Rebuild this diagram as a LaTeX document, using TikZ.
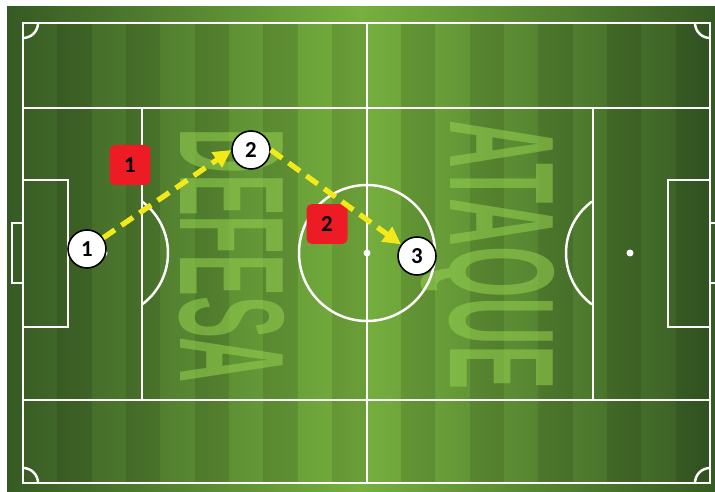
\documentclass[tikz,border=0pt]{standalone}
\usepackage{fontspec}
\setmainfont{Carlito}
\newfontfamily\bannerfont{Liberation Sans}
\usetikzlibrary{arrows.meta}
\definecolor{fielddark}{RGB}{54,90,36}
\definecolor{fieldlight}{RGB}{118,176,62}
\definecolor{lettergreen}{RGB}{150,210,80}
\definecolor{passyellow}{RGB}{242,232,26}
\definecolor{passred}{RGB}{237,28,36}
\begin{document}
\begin{tikzpicture}[x=0.02cm, y=-0.02cm,
  pitch/.style={draw=white, line width=1.4pt},
  banner/.style={font=\bannerfont\bfseries\fontsize{85}{85}\selectfont, text=lettergreen,
    text opacity=0.55, inner sep=0pt, text depth=0pt, rotate=-90},
  player/.style={circle, draw=black, fill=white, line width=0.9pt, minimum size=0.76cm,
    inner sep=0pt, font=\bfseries\fontsize{13}{13}\selectfont},
  passnum/.style={fill=passred, rounded corners=3pt, minimum width=0.82cm, minimum height=0.8cm,
    inner sep=0pt, font=\bfseries\fontsize{13}{13}\selectfont},
  pass/.style={draw=passyellow, line width=3pt, dash pattern=on 8pt off 4.5pt,
    -{Triangle[length=10pt, width=10pt]}}]
  \useasboundingbox[fill=white] (0,0) rectangle (715,492);
  \shade[left color=fielddark, right color=fielddark, middle color=fieldlight] (7,7) rectangle (715,492);
  \foreach \i in {1,3,...,19}
    \fill[black, opacity=0.1] ({23+34.35*\i},23) rectangle ({23+34.35*(\i+1)},483);

  \node[banner, xscale=0.42] (defesa) at (233,256) {DEFESA};
  \node[banner, xscale=0.443] (ataque) at (503,255) {ATAQUE};

  \draw[pitch] (23,23) rectangle (710,483);
  \draw[pitch] (23,108) -- (710,108) (23,400) -- (710,400);
  \draw[pitch] (367,23) -- (367,483);
  \draw[pitch] (142,108) -- (142,400) (593,108) -- (593,400);
  \draw[pitch] (23,180) rectangle (68,327) (668,180) rectangle (710,327);
  \draw[pitch] (12,223) rectangle (23,283) (710,223) rectangle (722,283);
  \draw[pitch] (367,253) circle[radius=68];
  \draw[pitch] ([shift={(-53.6:64)}]104,253) arc[start angle=-53.6, end angle=53.6, radius=64];
  \draw[pitch] ([shift={(126.4:64)}]630,253) arc[start angle=126.4, end angle=233.6, radius=64];
  \draw[pitch] (38,23) arc[start angle=0, end angle=90, radius=15];
  \draw[pitch] (695,23) arc[start angle=180, end angle=90, radius=15];
  \draw[pitch] (38,483) arc[start angle=0, end angle=-90, radius=15];
  \draw[pitch] (695,483) arc[start angle=180, end angle=270, radius=15];
  \fill[white] (367,253) circle[radius=3.5] (630,253) circle[radius=3.5] (104,253) circle[radius=3.5];

  \node[player] (p1) at (87,249) {1};
  \node[player] (p2) at (251,150) {2};
  \node[player] (p3) at (417,256) {3};
  \node[passnum] (n1) at (130,165) {1};
  \node[passnum] (n2) at (327,224) {2};

  \draw[pass] (p1) -- (p2.west);
  \draw[pass] (p2.east) -- (p3);
\end{tikzpicture}
\end{document}
